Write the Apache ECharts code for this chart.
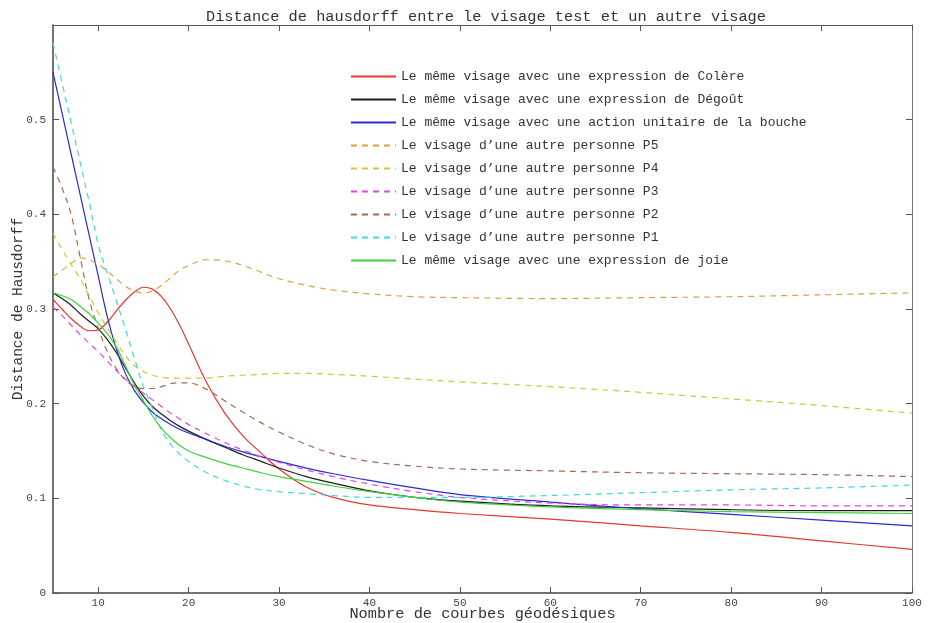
<!DOCTYPE html>
<html>
<head>
<meta charset="utf-8">
<script src="https://cdn.jsdelivr.net/npm/echarts@6/dist/echarts.min.js"></script>
<style>html,body{margin:0;padding:0;background:#fff}#c{width:929px;height:623px}</style>
</head>
<body>
<div id="c"></div>
<script>
var xs = [5,6,7,8,9,10,11,12,13,14,15,16,17,18,19,20,22,24,26,28,30,33,36,40,45,50,60,70,80,90,100];
var xTicks = [10,20,30,40,50,60,70,80,90,100];
var yTicks = [0,0.1,0.2,0.3,0.4,0.5];

var colere = [0.310,0.300,0.290,0.282,0.277,0.278,0.286,0.298,0.309,0.318,0.323,0.321,0.313,0.300,0.283,0.263,0.222,0.190,0.166,0.148,0.131,0.112,0.101,0.093,0.088,0.084,0.078,0.071,0.064,0.055,0.046];
var degout = [0.317,0.311,0.304,0.295,0.287,0.279,0.268,0.254,0.238,0.222,0.208,0.197,0.189,0.182,0.176,0.171,0.162,0.154,0.146,0.139,0.132,0.123,0.116,0.108,0.101,0.097,0.092,0.090,0.088,0.087,0.087];
var bouche = [0.550,0.507,0.464,0.421,0.378,0.335,0.292,0.258,0.232,0.214,0.201,0.191,0.184,0.178,0.173,0.169,0.162,0.155,0.149,0.144,0.139,0.132,0.126,0.119,0.111,0.104,0.096,0.089,0.083,0.077,0.071];
var p5 = [0.334,0.341,0.348,0.354,0.352,0.347,0.340,0.332,0.324,0.319,0.317,0.319,0.325,0.333,0.341,0.346,0.352,0.351,0.346,0.339,0.332,0.325,0.320,0.316,0.313,0.312,0.311,0.312,0.313,0.315,0.317];
var p4 = [0.380,0.363,0.347,0.332,0.314,0.296,0.280,0.265,0.251,0.240,0.234,0.230,0.228,0.227,0.227,0.227,0.227,0.229,0.230,0.231,0.232,0.232,0.231,0.229,0.226,0.223,0.218,0.212,0.205,0.198,0.190];
var p3 = [0.302,0.293,0.283,0.273,0.264,0.255,0.245,0.235,0.226,0.218,0.211,0.204,0.197,0.190,0.184,0.178,0.168,0.159,0.151,0.144,0.138,0.130,0.123,0.115,0.107,0.101,0.095,0.093,0.093,0.092,0.092];
var p2 = [0.450,0.428,0.400,0.355,0.310,0.280,0.255,0.237,0.225,0.218,0.216,0.216,0.218,0.221,0.222,0.222,0.215,0.203,0.191,0.180,0.170,0.157,0.147,0.139,0.134,0.131,0.129,0.127,0.126,0.125,0.123];
var p1 = [0.581,0.539,0.497,0.455,0.413,0.368,0.338,0.309,0.279,0.248,0.218,0.195,0.172,0.157,0.147,0.139,0.127,0.119,0.113,0.109,0.107,0.105,0.103,0.101,0.101,0.101,0.103,0.106,0.109,0.111,0.114];
var joie = [0.317,0.314,0.310,0.303,0.295,0.285,0.274,0.260,0.240,0.220,0.203,0.187,0.174,0.164,0.156,0.150,0.143,0.137,0.132,0.127,0.123,0.118,0.113,0.107,0.101,0.096,0.091,0.088,0.086,0.085,0.084];

var names = [
  'Le même visage avec une expression de Colère',
  'Le même visage avec une expression de Dégoût',
  'Le même visage avec une action unitaire de la bouche',
  'Le visage d\u2019une autre personne P5',
  'Le visage d\u2019une autre personne P4',
  'Le visage d\u2019une autre personne P3',
  'Le visage d\u2019une autre personne P2',
  'Le visage d\u2019une autre personne P1',
  'Le même visage avec une expression de joie'
];
var values = [colere, degout, bouche, p5, p4, p3, p2, p1, joie];
var colors = ['#E5392F','#1e1e1e','#2a2ad2','#D6A443','#D3C63E','#E247E2','#A56A50','#40D8E2','#3ED23E'];
var dashed = [false,false,false,true,true,true,true,true,false];

var mono = '"Liberation Mono", "DejaVu Sans Mono", monospace';
var series = names.map(function(n, k){
  return {
    name: n, type: 'line', smooth: 0.35, symbol: 'none',
    data: xs.map(function(x, i){ return [x, values[k][i]]; }),
    lineStyle: { color: colors[k], width: 1.2, type: dashed[k] ? [6,5] : 'solid' },
    itemStyle: { color: colors[k] }
  };
});

var chart = echarts.init(document.getElementById('c'));
chart.setOption({
  animation: false,
  title: {
    text: 'Distance de hausdorff entre le visage test et un autre visage',
    left: 201, top: 4,
    textStyle: { fontFamily: mono, fontSize: 15.3, fontWeight: 'normal', color: '#333' }
  },
  legend: {
    orient: 'vertical', left: 345, top: 65,
    itemWidth: 45, itemHeight: 14, itemGap: 10,
    itemStyle: { opacity: 0 },
    data: names,
    textStyle: { fontFamily: mono, fontSize: 13, color: '#333' }
  },
  grid: { left: 53, right: 17, top: 25, bottom: 30, outerBoundsMode: 'none', containLabel: false },
  xAxis: [{
    type: 'value', min: 5, max: 100,
    name: 'Nombre de courbes géodésiques', nameLocation: 'middle', nameGap: 13, nameMoveOverlap: false,
    nameTextStyle: { fontFamily: mono, fontSize: 15.3, color: '#333', verticalAlign: 'top', lineHeight: 16 },
    axisLine: { show: true, lineStyle: { color: '#444', width: 1.5 } },
    axisTick: { show: true, inside: true, length: 6, customValues: xTicks, lineStyle: { color: '#555' } },
    axisLabel: { customValues: xTicks, margin: 5, fontFamily: mono, fontSize: 11, color: '#444' },
    splitLine: { show: false }
  }, {
    type: 'value', min: 5, max: 100, position: 'top',
    axisLine: { show: true, onZero: false, lineStyle: { color: '#555', width: 1 } },
    axisTick: { show: true, inside: true, length: 6, customValues: xTicks, lineStyle: { color: '#555' } },
    axisLabel: { show: false },
    splitLine: { show: false }
  }],
  yAxis: [{
    type: 'value', min: 0, max: 0.6,
    name: 'Distance de Hausdorff', nameLocation: 'middle', nameGap: 35, nameMoveOverlap: false,
    nameTextStyle: { fontFamily: mono, fontSize: 14.5, color: '#333', verticalAlign: 'middle' },
    axisLine: { show: true, lineStyle: { color: '#444', width: 1.5 } },
    axisTick: { show: true, inside: true, length: 6, customValues: yTicks, lineStyle: { color: '#555' } },
    axisLabel: { customValues: yTicks, margin: 7, fontFamily: mono, fontSize: 11, color: '#444',
      formatter: function(v){ return v === 0 ? '0' : v.toFixed(1); } },
    splitLine: { show: false }
  }, {
    type: 'value', min: 0, max: 0.6, position: 'right',
    axisLine: { show: true, onZero: false, lineStyle: { color: '#777', width: 1 } },
    axisTick: { show: true, inside: true, length: 6, customValues: yTicks, lineStyle: { color: '#555' } },
    axisLabel: { show: false },
    splitLine: { show: false }
  }],
  series: series
});
</script>
</body>
</html>
